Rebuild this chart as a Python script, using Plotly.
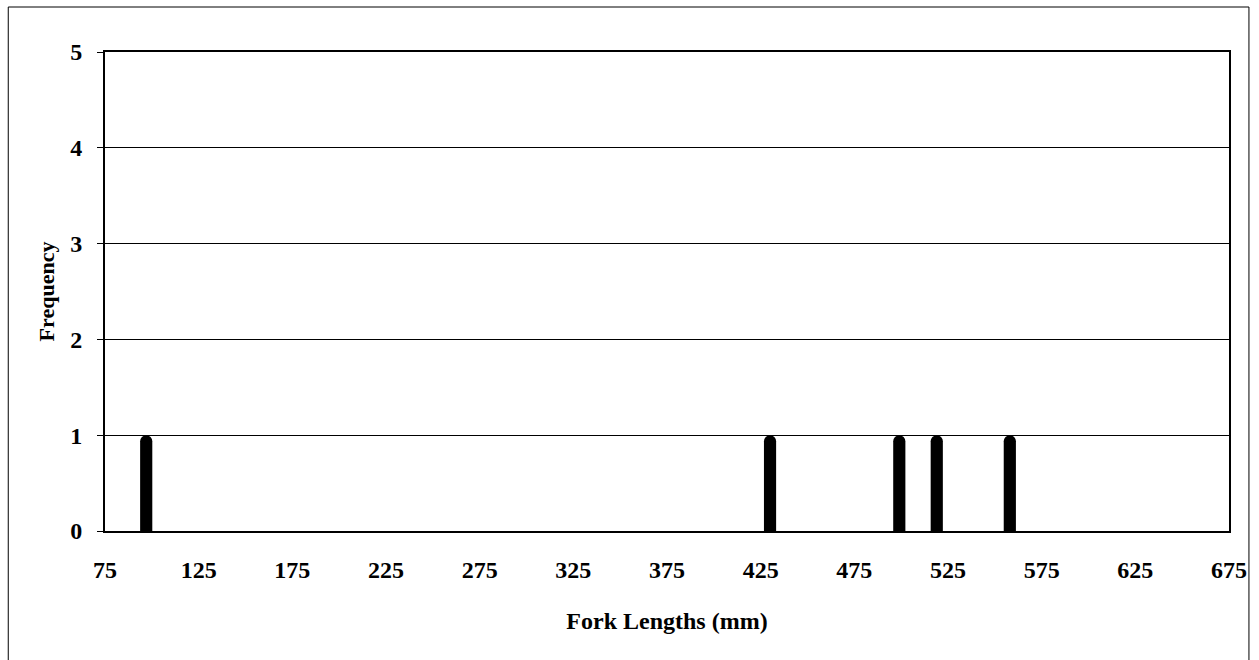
import plotly.graph_objects as go

fork_lengths = [97, 430, 499, 519, 558]
frequency = [1, 1, 1, 1, 1]
x_ticks = [75, 125, 175, 225, 275, 325, 375, 425, 475, 525, 575, 625, 675]
y_ticks = [0, 1, 2, 3, 4, 5]

FONT = "Liberation Serif"

fig = go.Figure()
fig.add_trace(go.Bar(
    x=fork_lengths, y=frequency, width=6.5,
    marker=dict(color="black", line=dict(width=0)),
))

L, R, T, B = 105, 27, 52, 129
W, H = 1259, 660
pw, ph = W - L - R, H - T - B

fig.update_layout(
    width=W, height=H,
    margin=dict(l=L, r=R, t=T, b=B),
    paper_bgcolor="white", plot_bgcolor="white",
    showlegend=False,
    barcornerradius=6,
    font=dict(family=FONT, color="black"),
    xaxis=dict(
        range=[75, 675], tickvals=x_ticks, ticktext=[str(v) for v in x_ticks],
        showgrid=False, zeroline=False,
        showline=True, linecolor="black", linewidth=2, mirror=True,
        ticks="", ticklabelstandoff=16,
        tickfont=dict(family=FONT, size=24, color="black", weight="bold"),
        title=dict(text="<b>Fork Lengths (mm)</b>", font=dict(family=FONT, size=24), standoff=30),
    ),
    yaxis=dict(
        range=[0, 5], tickvals=y_ticks,
        showgrid=True, gridcolor="black", gridwidth=1, zeroline=False,
        showline=True, linecolor="black", linewidth=2, mirror=True,
        ticks="outside", ticklen=6, tickcolor="black", tickwidth=1,
        ticklabelstandoff=10,
        tickfont=dict(family=FONT, size=24, color="black", weight="bold"),
        title=dict(text="<b>Frequency</b>", font=dict(family=FONT, size=22), standoff=10),
    ),
    shapes=[dict(
        type="rect", xref="paper", yref="paper",
        x0=(8 - L) / pw, x1=(1252 - L) / pw,
        y0=(H - B - 700) / ph, y1=(H - B - 7) / ph,
        line=dict(color="black", width=1), fillcolor="rgba(0,0,0,0)", layer="below",
    )],
)

fig.write_html(
    "out.html",
    config={"displayModeBar": False},
    post_script="document.body.style.margin='0';document.body.style.overflow='hidden';",
)
